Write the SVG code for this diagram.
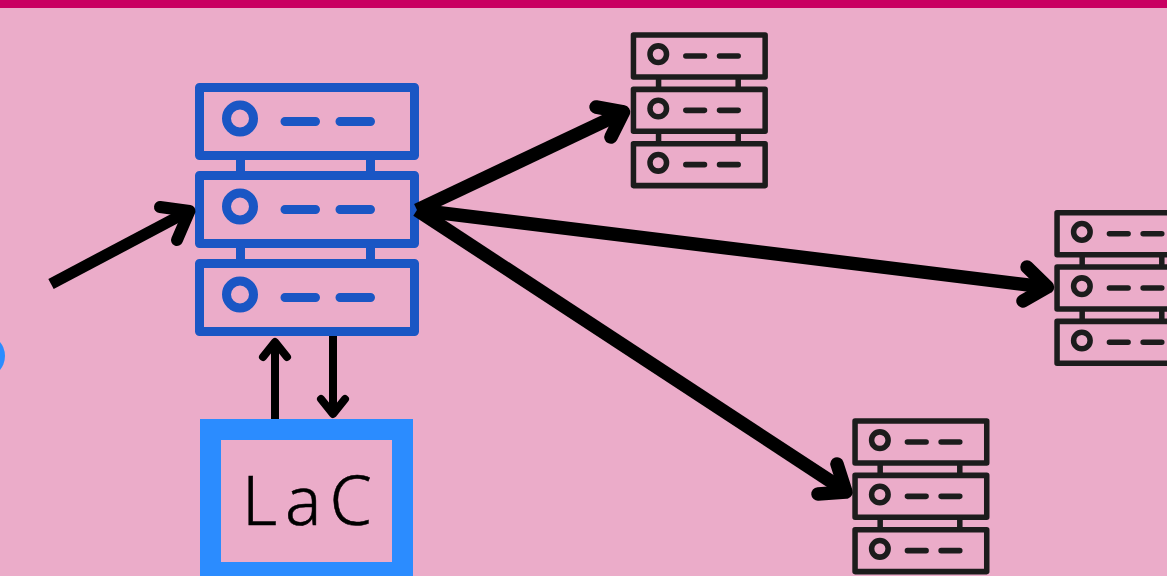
<svg xmlns="http://www.w3.org/2000/svg" width="1167" height="576" viewBox="0 0 1167 576">
<style>
.bg{fill:#ebacc9}
.bar{fill:#c90062}
.unit{fill:none;stroke:currentColor;stroke-linejoin:round}
.dash{fill:none;stroke:currentColor;stroke-linecap:round}
.blue{color:#1a56c4;stroke-width:9}
.dark{color:#1c1c1c;stroke-width:9}
.arrow{fill:none;stroke:#000;stroke-linecap:butt;stroke-linejoin:round}
.head{fill:none;stroke:#000;stroke-linecap:round;stroke-linejoin:round}
.lac{fill:none;stroke:#2b8cff;stroke-width:21}
.label{font-family:"Noto Sans","Liberation Sans",sans-serif;font-weight:300;font-size:68px;letter-spacing:8px;fill:#000;stroke:#000;stroke-width:.5}
</style>
<defs>
<g id="server">
<rect class="unit" x="4.5" y="4.5" width="215" height="68"/>
<rect class="unit" x="4.5" y="92.5" width="215" height="68"/>
<rect class="unit" x="4.5" y="180.5" width="215" height="68"/>
<path class="unit" d="M45.5 73V92M175.5 73V92M45.5 161V180M175.5 161V180"/>
<circle class="unit" cx="45" cy="35.5" r="13.5"/>
<circle class="unit" cx="45" cy="123.5" r="13.5"/>
<circle class="unit" cx="45" cy="211.5" r="13.5"/>
<path class="dash" d="M90 38.5H120.5M145 38.5H175.5M90 126.5H120.5M145 126.5H175.5M90 214.5H120.5M145 214.5H175.5"/>
</g>
</defs>
<rect class="bg" width="1167" height="576"/>
<rect class="bar" width="1167" height="8"/>
<circle cx="-17" cy="356" r="22" fill="#2b8cff"/>
<g id="server-main" class="blue"><use href="#server" transform="translate(195 83)"/></g>
<g id="server-top" class="dark"><use href="#server" transform="translate(630.7 32.3) scale(.6125 .617)"/></g>
<g id="server-right" class="dark"><use href="#server" transform="translate(1054.3 210) scale(.6125 .617)"/></g>
<g id="server-bottom" class="dark"><use href="#server" transform="translate(852.3 418.3) scale(.6125 .617)"/></g>
<g id="lac">
<rect class="lac" x="210.5" y="429.5" width="192" height="143"/>
<text class="label" x="242" y="525">LaC</text>
</g>
<g id="connectors">
<path class="arrow" stroke-width="11.5" d="M51 284L187 212"/>
<path class="head" stroke-width="12" d="M160 207L189.500 211L177 240"/>
<path class="arrow" stroke-width="13.5" d="M417 210L622 113"/>
<path class="head" stroke-width="13.5" d="M596 107L623.500 112L611 137"/>
<path class="arrow" stroke-width="13.5" d="M417 210L1045 287"/>
<path class="head" stroke-width="13.5" d="M1027 267L1047.500 287L1023 301"/>
<path class="arrow" stroke-width="13.5" d="M417 210L844 490"/>
<path class="head" stroke-width="13.5" d="M837 464L846 492L818 494"/>
<path class="arrow" stroke-width="8" d="M275 419V344"/>
<path class="head" stroke-width="8" d="M263 357L275 342L287 357"/>
<path class="arrow" stroke-width="8" d="M333 336V410"/>
<path class="head" stroke-width="8" d="M321 399L333 414L345 399"/>
</g>
</svg>
